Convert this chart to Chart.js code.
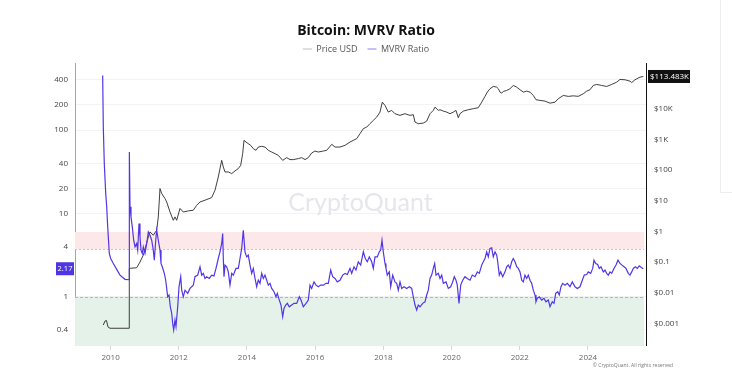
<!DOCTYPE html>
<html><head><meta charset="utf-8">
<script src="https://cdn.jsdelivr.net/npm/chart.js@4.4.1/dist/chart.umd.min.js"></script>
<style>html,body{margin:0;padding:0;background:#fff;}#wrap{width:732px;height:383px;position:relative;}</style>
</head><body><div id="wrap"><canvas id="c" width="732" height="383"></canvas></div>
<script>
// ---- data (decimal years) ----
const priceYears = [2009.786,2009.836,2009.88,2009.924,2009.982,2010.54,2010.548,2010.765,2010.862,2010.959,2011.106,2011.155,2011.252,2011.352,2011.399,2011.449,2011.499,2011.595,2011.645,2011.742,2011.839,2011.889,2011.938,2012.035,2012.132,2012.279,2012.425,2012.525,2012.622,2012.768,2012.965,2013.062,2013.158,2013.258,2013.305,2013.355,2013.452,2013.551,2013.648,2013.745,2013.815,2013.874,2013.912,2013.971,2014.038,2014.109,2014.185,2014.264,2014.331,2014.431,2014.528,2014.625,2014.724,2014.821,2014.918,2015.047,2015.164,2015.261,2015.358,2015.504,2015.604,2015.701,2015.798,2015.897,2015.994,2016.091,2016.238,2016.337,2016.484,2016.581,2016.727,2016.874,2017.021,2017.117,2017.217,2017.314,2017.411,2017.51,2017.607,2017.704,2017.804,2017.9,2017.968,2018.047,2018.144,2018.243,2018.34,2018.487,2018.633,2018.78,2018.877,2018.927,2019.023,2019.17,2019.27,2019.367,2019.463,2019.513,2019.61,2019.66,2019.757,2019.856,2019.953,2020.05,2020.129,2020.196,2020.246,2020.343,2020.49,2020.636,2020.783,2020.883,2020.979,2021.047,2021.126,2021.223,2021.323,2021.37,2021.419,2021.469,2021.516,2021.616,2021.713,2021.809,2021.909,2022.006,2022.103,2022.202,2022.299,2022.396,2022.475,2022.592,2022.739,2022.886,2023.032,2023.129,2023.276,2023.422,2023.569,2023.716,2023.862,2023.962,2024.059,2024.155,2024.255,2024.402,2024.548,2024.695,2024.842,2024.938,2025.085,2025.232,2025.281,2025.378,2025.525,2025.622];
const priceValues = [0.00088,0.00119,0.00123,0.00076,0.00069,0.00069,0.062,0.065,0.10,0.168,0.66,0.96,0.75,1.09,2.97,24.9,17.2,11.8,9.1,4.3,2.3,2.97,2.3,5.6,4.3,4.66,4.9,7.1,9.1,10.4,12.7,22,59.6,208,126,87,87,77,94,112,143,344,935,822,729,643,501,442,565,596,565,442,389,344,303,208,255,220,220,237,255,220,255,361,419,389,419,442,692,565,565,643,822,935,1062,1545,2248,2535,3273,4188,5370,7820,16500,12900,7820,8870,6920,6100,6920,6100,6430,3690,3273,3420,3975,6920,8870,11350,8870,9350,8410,7820,6920,7820,8870,5130,6920,8410,9350,10100,10860,16500,25400,35000,45200,53700,50900,45200,35000,32400,36900,39800,45200,57800,50900,41900,35000,37800,35000,27300,19800,18800,17800,15300,16500,21300,27300,25400,26500,25500,31000,37800,41900,57800,62400,57800,53700,62400,74100,90800,88700,79800,72000,88700,108000,113483];

const mvrvYears = [2009.768,2009.786,2009.815,2009.857,2009.886,2009.91,2009.933,2009.962,2010.003,2010.079,2010.179,2010.276,2010.422,2010.54,2010.55,2010.569,2010.598,2010.636,2010.677,2010.716,2010.765,2010.795,2010.833,2010.862,2010.891,2010.93,2010.959,2011.009,2011.059,2011.106,2011.155,2011.205,2011.252,2011.282,2011.323,2011.352,2011.399,2011.449,2011.478,2011.516,2011.575,2011.616,2011.645,2011.674,2011.713,2011.751,2011.792,2011.821,2011.85,2011.889,2011.918,2011.968,2012.006,2012.056,2012.085,2012.132,2012.182,2012.261,2012.328,2012.425,2012.475,2012.554,
2012.622,2012.672,2012.718,2012.768,2012.818,2012.894,2012.965,2013.032,2013.091,2013.158,2013.208,2013.258,2013.287,2013.305,2013.326,2013.355,2013.405,2013.452,2013.501,2013.551,2013.598,2013.677,2013.745,2013.795,2013.845,2013.891,2013.941,2013.991,2014.038,2014.088,2014.138,2014.185,2014.235,2014.284,2014.331,2014.381,2014.431,2014.478,2014.528,2014.578,2014.625,2014.674,2014.724,2014.792,2014.85,2014.889,2014.947,2014.997,2015.047,2015.085,2015.135,2015.182,2015.24,2015.311,2015.378,2015.457,2015.534,2015.584,2015.651,2015.73,2015.798,2015.848,2015.897,2015.965,2016.023,2016.091,2016.161,2016.238,2016.317,2016.384,2016.455,2016.513,2016.581,2016.648,2016.727,2016.806,2016.874,2016.941,2017.021,2017.07,2017.138,2017.196,2017.264,2017.334,2017.411,2017.469,2017.528,2017.587,2017.657,2017.704,2017.754,2017.821,2017.88,2017.921,2017.959,2017.997,2018.047,2018.076,2018.114,2018.173,2018.214,2018.273,2018.34,2018.39,2018.437,2018.487,2018.537,2018.604,2018.683,2018.76,2018.83,2018.877,2018.927,2018.977,2019.023,2019.073,2019.152,2019.22,2019.27,2019.317,2019.367,
2019.416,2019.463,2019.504,2019.543,2019.61,2019.66,2019.71,2019.757,2019.836,2019.903,2019.974,2020.032,2020.079,2020.129,2020.167,2020.217,2020.267,2020.326,2020.393,2020.46,2020.54,2020.607,2020.686,2020.754,2020.812,2020.883,2020.93,2020.979,2021.029,2021.076,2021.126,2021.176,2021.223,2021.273,2021.323,2021.352,2021.399,2021.44,2021.499,2021.566,2021.616,2021.663,2021.713,2021.762,2021.809,2021.859,2021.909,2021.956,2022.006,2022.056,2022.103,2022.152,2022.202,2022.249,2022.299,2022.349,2022.396,2022.446,2022.475,2022.513,2022.572,2022.642,2022.71,2022.768,2022.836,2022.886,2022.953,2023.003,2023.053,2023.111,2023.158,2023.208,2023.258,2023.326,2023.393,2023.472,2023.54,2023.619,2023.686,2023.765,2023.833,2023.891,2023.962,2024.009,2024.079,2024.138,2024.176,2024.226,2024.284,2024.331,2024.381,2024.449,2024.499,2024.548,2024.595,2024.645,2024.695,2024.762,2024.821,2024.88,2024.938,2024.997,2025.056,2025.114,2025.182,2025.232,2025.282,2025.328,2025.387,2025.446,2025.504,2025.563,2025.622];
const mvrvValues = [452,109,39.6,17.3,12,7.5,5.2,3.31,2.88,2.51,2.13,1.82,1.62,1.6,54.5,12,9.08,6.89,4.77,3.97,4.36,3.63,7.57,5.23,3.63,3.31,3.97,3.31,4.36,6.0,5.48,4.77,3.63,2.75,4.77,6.29,4.77,3.63,2.51,2.29,1.91,1.58,1.26,1.0,1.05,0.76,0.633,0.48,0.40,0.526,0.44,0.76,1.32,1.74,1.2,1.0,1.2,1.1,1.26,1.38,1.74,1.82,
2.29,1.82,1.91,1.66,1.74,1.66,1.82,1.78,2.19,2.88,3.46,4.36,5.75,2.88,1.74,2.4,2.29,1.99,1.38,1.91,1.82,2.19,2.19,2.88,3.8,6.29,3.46,3.01,3.16,2.4,1.91,2.19,1.66,1.32,1.58,1.45,1.91,1.66,1.82,1.58,1.38,1.45,1.26,1.15,1.0,1.1,0.913,0.796,0.576,0.726,0.796,0.834,0.759,0.796,0.834,0.834,1.0,0.913,0.759,0.834,0.913,1.38,1.26,1.51,1.38,1.32,1.38,1.38,1.45,1.45,2.09,1.74,1.66,1.51,1.58,1.82,1.91,1.85,2.19,1.91,2.29,2.09,2.63,2.4,3.46,2.88,2.63,3.01,2.63,2.19,3.01,3.01,3.46,3.63,4.78,3.46,2.51,2.19,1.82,1.99,1.32,1.82,1.51,1.45,1.2,1.51,1.26,1.32,1.26,1.32,1.26,1.0,0.796,0.693,0.796,0.759,0.834,0.871,1.05,1.2,1.66,
1.82,2.19,2.51,1.82,1.91,1.66,1.82,1.45,1.51,1.26,1.32,1.51,1.74,1.58,1.38,0.834,1.38,1.58,1.74,1.66,1.58,1.82,1.74,1.99,1.91,2.4,2.63,2.88,3.46,3.01,3.8,3.86,3.01,3.46,3.16,2.63,1.82,1.99,1.74,1.99,2.29,2.4,2.19,2.63,2.88,2.63,2.29,2.19,1.99,1.58,1.51,1.82,1.66,1.82,1.58,1.45,1.2,1.05,0.871,0.957,1.0,0.913,0.957,0.871,0.913,0.759,0.871,0.834,1.1,1.15,1.05,1.32,1.45,1.38,1.45,1.32,1.51,1.32,1.26,1.32,1.58,1.82,1.85,1.99,1.91,2.19,2.75,2.51,2.44,2.19,2.29,1.99,2.09,1.91,1.82,1.99,1.91,2.19,2.4,2.75,2.51,2.4,2.29,2.19,1.91,1.82,1.99,2.19,2.29,2.19,2.35,2.25,2.17];

const yearTicks = [2010,2012,2014,2016,2018,2020,2022,2024];
const mvrvTicks = [0.4,1,4,10,20,40,100,200,400];
const priceTicks = [0.001,0.01,0.1,1,10,100,1000,10000];
const overvaluedBand = [3.7,6];
const undervaluedLine = 1;
const lastMvrvText = '2.17';
const lastPriceText = '$113.483K';

// ---- chart ----
const FONT = '"Open Sans", "Noto Sans", sans-serif';
Chart.defaults.font.family = FONT;
const fmtPrice = v => v >= 1000 ? '$' + (v/1000) + 'K' : '$' + v;

const decor = {
  id: 'decor',
  beforeDatasetsDraw(chart) {
    const {ctx, chartArea: a, scales: {yL}} = chart;
    ctx.save();
    ctx.fillStyle = '#e6e6ec';
    ctx.font = '400 25px Lato, ' + FONT;
    ctx.textAlign = 'center'; ctx.textBaseline = 'middle';
    ctx.fillText('CryptoQuant', (a.left + a.right) / 2, (a.top + a.bottom) / 2 - 1);
    const yt = yL.getPixelForValue(overvaluedBand[1]);
    const yb = yL.getPixelForValue(overvaluedBand[0]);
    ctx.fillStyle = '#fce8e8';
    ctx.fillRect(a.left, yt, a.right - a.left - 2, yb - yt);
    ctx.strokeStyle = '#f4b4b4'; ctx.lineWidth = 1; ctx.setLineDash([2, 2]);
    ctx.beginPath(); ctx.moveTo(a.left, Math.round(yb) + 0.5); ctx.lineTo(a.right - 2, Math.round(yb) + 0.5); ctx.stroke();
    const y1 = yL.getPixelForValue(undervaluedLine);
    ctx.fillStyle = '#e5f2ea';
    ctx.fillRect(a.left, y1, a.right - a.left - 2, a.bottom - y1 + 1);
    ctx.strokeStyle = '#8fcf8f'; ctx.setLineDash([3, 2]);
    ctx.beginPath(); ctx.moveTo(a.left, Math.round(y1) + 0.5); ctx.lineTo(a.right - 2, Math.round(y1) + 0.5); ctx.stroke();
    ctx.restore();
  },
  afterDraw(chart) {
    const {ctx, chartArea: a, scales: {yL, yR}} = chart;
    ctx.save();
    const ym = yL.getPixelForValue(mvrvValues[mvrvValues.length - 1]);
    ctx.fillStyle = '#4f36e2';
    ctx.fillRect(a.left - 19, ym - 6.5, 18, 13);
    ctx.fillStyle = '#fff'; ctx.font = '7.5px ' + FONT;
    ctx.textAlign = 'center'; ctx.textBaseline = 'middle';
    ctx.fillText(lastMvrvText, a.left - 10, ym + 0.5);
    const yp = yR.getPixelForValue(priceValues[priceValues.length - 1]);
    ctx.fillStyle = '#111';
    ctx.fillRect(a.right + 2, yp - 6.5, 42, 13);
    ctx.fillStyle = '#fff'; ctx.font = '8px ' + FONT;
    ctx.textAlign = 'left';
    ctx.fillText(lastPriceText, a.right + 4, yp + 0.5);
    ctx.fillStyle = '#777'; ctx.font = '5px ' + FONT; ctx.textAlign = 'right';
    ctx.fillText('\u00A9 CryptoQuant. All rights reserved', 673, 366);
    ctx.strokeStyle = '#ededed'; ctx.lineWidth = 1;
    ctx.beginPath(); ctx.moveTo(720.5, 0); ctx.lineTo(720.5, 192.5); ctx.lineTo(732, 192.5); ctx.stroke();
    ctx.restore();
  }
};

new Chart(document.getElementById('c'), {
  type: 'line',
  data: {
    datasets: [
      { label: 'Price USD', yAxisID: 'yR', order: 2,
        data: priceYears.map((x, i) => ({x, y: priceValues[i]})),
        borderColor: '#2a2a2a', borderWidth: 0.9, pointRadius: 0, tension: 0 },
      { label: 'MVRV Ratio', yAxisID: 'yL', order: 1,
        data: mvrvYears.map((x, i) => ({x, y: mvrvValues[i]})),
        borderColor: '#5236e6', borderWidth: 1.2, pointRadius: 0, tension: 0 }
    ]
  },
  options: {
    responsive: false, animation: false, devicePixelRatio: 1,
    layout: { padding: 0 },
    plugins: {
      title: { display: true, text: 'Bitcoin: MVRV Ratio', color: '#111',
        font: { size: 14, weight: 'bold', family: FONT }, padding: { top: 23, bottom: -5.3 } },
      legend: { display: true, position: 'top', align: 'center',
        labels: { usePointStyle: true, pointStyle: 'line', pointStyleWidth: 9, boxHeight: 9,
          padding: 10, color: '#555', font: { size: 9, family: FONT },
          generateLabels: (chart) => chart.data.datasets.map((ds, i) => ({
            text: ds.label, fillStyle: ['#d4d4d4', '#b6aaf7'][i], strokeStyle: ['#d4d4d4', '#b6aaf7'][i],
            lineWidth: 1.5, pointStyle: 'line', hidden: false, datasetIndex: i, fontColor: '#555' })) } },
      tooltip: { enabled: false }
    },
    scales: {
      x: { type: 'linear', min: 2008.956, max: 2025.701,
        afterFit: s => { s.height = 38; },
        afterBuildTicks: s => { s.ticks = yearTicks.map(v => ({value: v})); },
        grid: { display: true, drawOnChartArea: false, drawTicks: true, tickLength: 5, color: '#d8d8d8' },
        border: { display: false },
        ticks: { color: '#666', font: { size: 8 }, padding: 3, maxRotation: 0, callback: v => String(v) } },
      yL: { type: 'logarithmic', position: 'left', min: 0.264, max: 629,
        afterFit: s => { s.width = 75; },
        afterBuildTicks: s => { s.ticks = mvrvTicks.map(v => ({value: v})); },
        grid: { color: '#f3f3f3', drawTicks: false },
        border: { display: true, color: '#a797f2', width: 1 },
        ticks: { color: '#444', font: { size: 8 }, padding: 7, callback: v => String(v) } },
      yR: { type: 'logarithmic', position: 'right', min: 0.000196, max: 301000,
        afterFit: s => { s.width = 86; },
        afterBuildTicks: s => { s.ticks = priceTicks.map(v => ({value: v})); },
        grid: { display: false, drawTicks: false },
        border: { display: true, color: '#111', width: 1 },
        ticks: { color: '#444', font: { size: 8 }, padding: 8, callback: v => fmtPrice(v) } }
    }
  },
  plugins: [decor]
});
</script></body></html>
